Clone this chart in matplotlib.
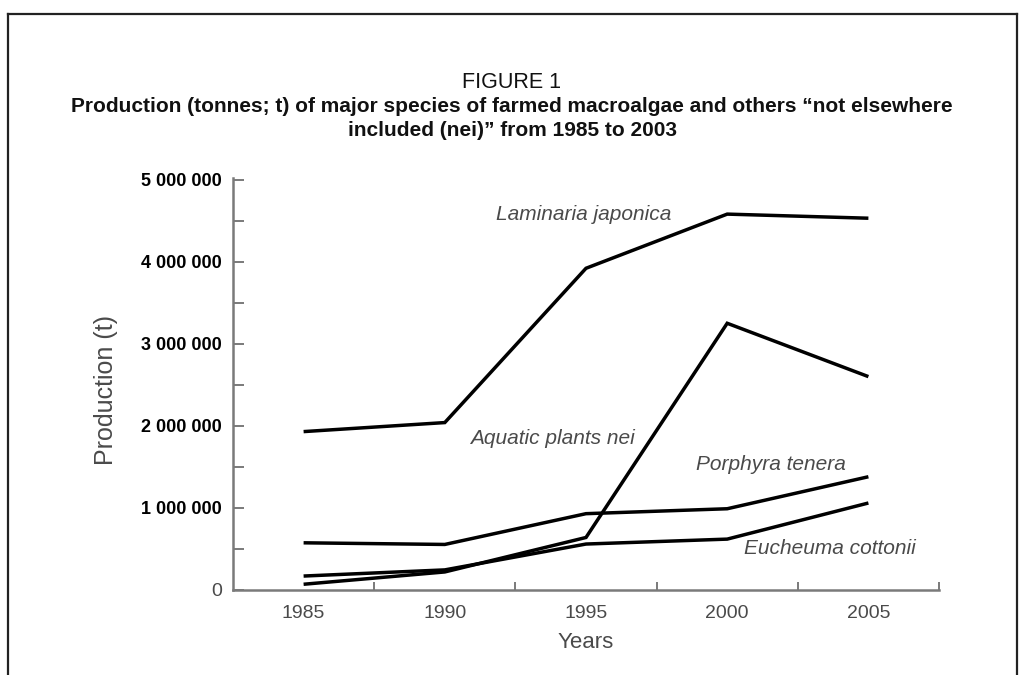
#!/usr/bin/env python3
"""Figure 1 - production of major farmed macroalgae species, 1985-2005."""
import matplotlib
matplotlib.use("Agg")
import matplotlib.pyplot as plt
from matplotlib.lines import Line2D
from matplotlib.ticker import FixedLocator

# data (tonnes)
years = [1985, 1990, 1995, 2000, 2005]
laminaria = [1930000, 2040000, 3920000, 4580000, 4530000]
aquatic_nei = [70000, 220000, 640000, 3250000, 2600000]
porphyra = [575000, 555000, 930000, 990000, 1380000]
eucheuma = [170000, 245000, 560000, 620000, 1060000]

series_labels = ["Laminaria japonica", "Aquatic plants nei",
                 "Porphyra tenera", "Eucheuma cottonii"]
label_pos = [(1991.8, 4570000), (1990.9, 1850000),
             (1998.9, 1530000), (2000.6, 510000)]

y_ticks = [0, 1000000, 2000000, 3000000, 4000000, 5000000]
y_ticklabels = ["0", "1 000 000", "2 000 000", "3 000 000",
                "4 000 000", "5 000 000"]

AX_GREY = "#7a7a7a"
TXT_GREY = "#4a4a4a"
SANS = "Liberation Sans"

fig = plt.figure(figsize=(10.24, 6.75), dpi=100)

# frame around the figure (open at the bottom)
for xs, ys in [([8 / 1024, 8 / 1024], [0, 1 - 14 / 675]),
               ([8 / 1024, 1017 / 1024], [1 - 14 / 675, 1 - 14 / 675]),
               ([1017 / 1024, 1017 / 1024], [1 - 14 / 675, 0])]:
    fig.add_artist(Line2D(xs, ys, color="#222222", lw=1.6,
                          transform=fig.transFigure))

fig.text(0.5, 1 - 82 / 675, "FIGURE 1", ha="center", va="center",
         fontsize=15.5, family=SANS, color="#111111")
fig.text(0.5, 1 - 107 / 675,
         "Production (tonnes; t) of major species of farmed macroalgae "
         "and others \u201cnot elsewhere",
         ha="center", va="center", fontsize=15, family=SANS,
         weight="bold", color="#111111")
fig.text(0.5, 1 - 131 / 675, "included (nei)\u201d from 1985 to 2003",
         ha="center", va="center", fontsize=15, family=SANS,
         weight="bold", color="#111111")

ax = fig.add_axes([233 / 1024, 1 - 590 / 675, (939 - 233) / 1024,
                   (590 - 178) / 675])

for vals in [laminaria, aquatic_nei, porphyra, eucheuma]:
    ax.plot(years, vals, color="black", lw=2.5, solid_joinstyle="miter",
            solid_capstyle="butt")

for text, (x, y) in zip(series_labels, label_pos):
    ax.text(x, y, text, ha="left", va="center", style="italic",
            fontsize=15, family=SANS, color=TXT_GREY)

ax.set_xlim(1982.5, 2007.5)
ax.set_ylim(0, 5020000)

for side in ["top", "right"]:
    ax.spines[side].set_visible(False)
for side in ["left", "bottom"]:
    ax.spines[side].set_color(AX_GREY)
    ax.spines[side].set_linewidth(1.8)

# x: labels at full years, ticks half-way between
ax.set_xticks(years)
ax.set_xticklabels([str(y) for y in years], family=SANS,
                   fontsize=14, color=TXT_GREY)
ax.tick_params(axis="x", which="major", length=0, pad=11)
ax.xaxis.set_minor_locator(FixedLocator([1987.5, 1992.5, 1997.5,
                                         2002.5, 2007.5]))
ax.tick_params(axis="x", which="minor", direction="in", length=6,
               width=1.4, color=AX_GREY)

# y: bold labels, minor ticks every 500 000
ax.set_yticks(y_ticks)
ax.set_yticklabels(y_ticklabels, family=SANS, weight="bold",
                   fontsize=13, color="black")
zero = ax.get_yticklabels()[0]
zero.set_weight("normal")
zero.set_color(TXT_GREY)
zero.set_fontsize(14)
ax.yaxis.set_minor_locator(FixedLocator([500000, 1500000, 2500000,
                                         3500000, 4500000]))
ax.tick_params(axis="y", which="both", direction="in", length=8,
               width=1.4, color=AX_GREY, pad=8)

ax.set_xlabel("Years", family=SANS, fontsize=16, color=TXT_GREY)
ax.xaxis.set_label_coords(0.5, -0.102)
ax.set_ylabel("Production (t)", family=SANS, fontsize=18, color=TXT_GREY)
ax.yaxis.set_label_coords(-0.163, 0.485)

fig.savefig("out.png", dpi=100)
